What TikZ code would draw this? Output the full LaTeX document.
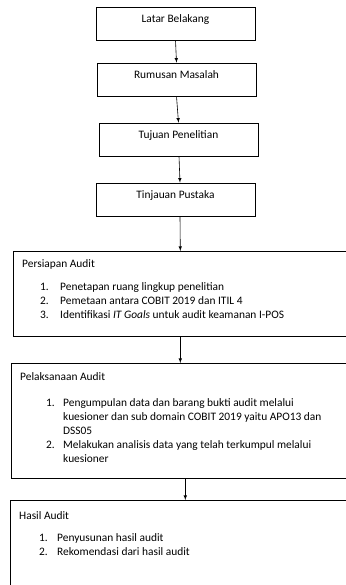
\documentclass[tikz,border=0pt]{standalone}
\usepackage{fontspec}
\setmainfont{Carlito}

\tikzset{
  stepbox/.style={draw, line width=0.6pt, minimum width=159pt, minimum height=33pt,
    inner sep=0pt, text height=16pt, text depth=17pt},
  auditbox/.style={draw, line width=0.6pt, anchor=north west, inner sep=0pt},
  boxtext/.style={anchor=base west, inner sep=0pt},
  flow/.style={->, >=latex, line width=0.6pt},
}

\begin{document}
\begin{tikzpicture}[x=1pt, y=-1pt, font=\fontsize{11.4}{14}\selectfont]
\useasboundingbox (0,0) rectangle (345,585);

% first steps
\node[stepbox] (latar) at (175.5,23.5) {Latar Belakang};
\node[stepbox] (rumusan) at (176.5,79.5) {Rumusan Masalah};
\node[stepbox] (tujuan) at (178.5,139.5) {Tujuan Penelitian};
\node[stepbox] (tinjauan) at (175.5,199.5) {Tinjauan Pustaka};

% audit stages
\node[auditbox, minimum width=334pt, minimum height=85pt] (persiapan) at (13,251) {};
\node[auditbox, minimum width=338pt, minimum height=115pt] (pelaksanaan) at (11,363) {};
\node[auditbox, minimum width=340pt, minimum height=90pt] (hasil) at (10,500) {};

\node[boxtext] (persiapan-isi) at ([shift={(9,16)}]persiapan.north west) {%
  \begin{tabular}[t]{@{}p{18pt}@{}p{20pt}@{}l@{}}
  \multicolumn{3}{@{}l@{}}{Persiapan Audit}\\[9pt]
  & 1. & Penetapan ruang lingkup penelitian\\
  & 2. & Pemetaan antara COBIT 2019 dan ITIL 4\\
  & 3. & Identifikasi \textit{IT Goals} untuk audit keamanan I-POS
  \end{tabular}};
\node[boxtext] (pelaksanaan-isi) at ([shift={(9,17.5)}]pelaksanaan.north west) {%
  \begin{tabular}[t]{@{}p{26pt}@{}p{17pt}@{}l@{}}
  \multicolumn{3}{@{}l@{}}{Pelaksanaan Audit}\\[12pt]
  & 1. & Pengumpulan data dan barang bukti audit melalui\\
  &    & kuesioner dan sub domain COBIT 2019 yaitu APO13 dan\\
  &    & DSS05\\
  & 2. & Melakukan analisis data yang telah terkumpul melalui\\
  &    & kuesioner
  \end{tabular}};
\node[boxtext] (hasil-isi) at ([shift={(9,19)}]hasil.north west) {%
  \begin{tabular}[t]{@{}p{20pt}@{}p{18pt}@{}l@{}}
  \multicolumn{3}{@{}l@{}}{Hasil Audit}\\[8pt]
  & 1. & Penyusunan hasil audit\\
  & 2. & Rekomendasi dari hasil audit
  \end{tabular}};

% arrows
\draw[flow] (latar.south) -- (rumusan.north);
\draw[flow] (rumusan.south) -- (tujuan.north);
\draw[flow] ([xshift=0.5]tujuan.south) -- ([xshift=4.5]tinjauan.north);
\draw[flow] ([xshift=4.5]tinjauan.south) -- (persiapan.north);
\draw[flow] (persiapan.south) -- (pelaksanaan.north);
\draw[flow] ([xshift=5]pelaksanaan.south) -- ([xshift=5]hasil.north);
\end{tikzpicture}
\end{document}
